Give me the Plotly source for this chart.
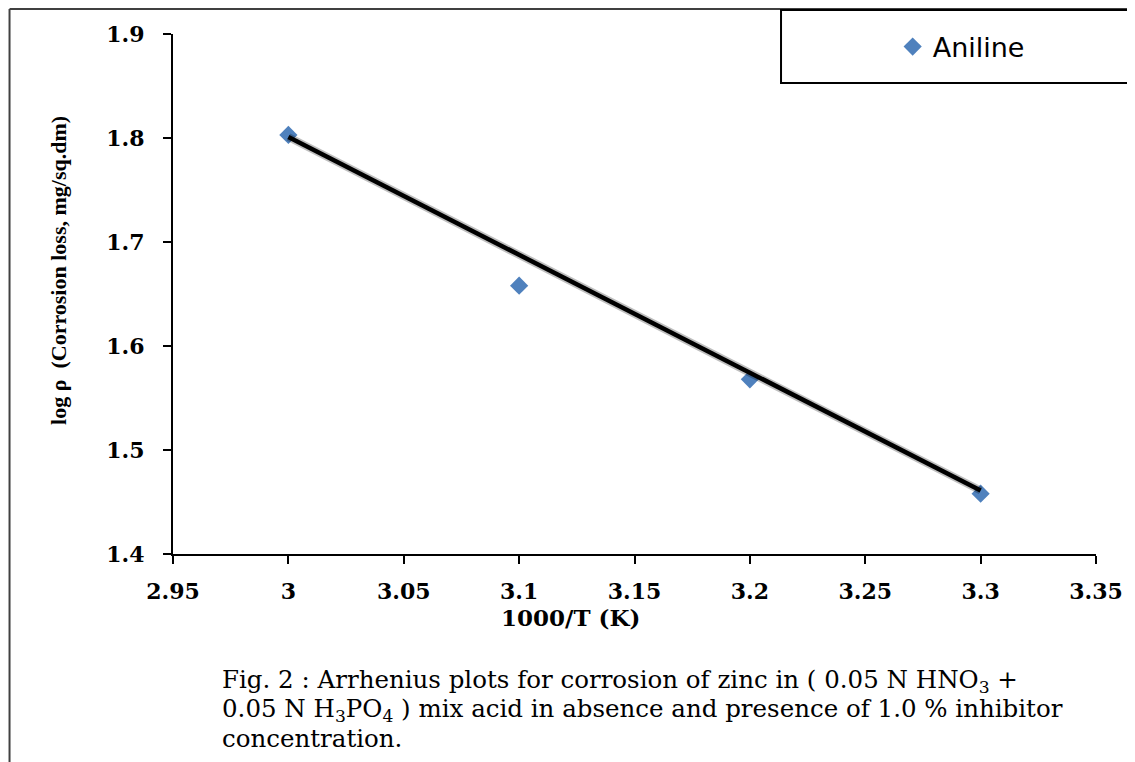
import plotly.graph_objects as go

# Data
temp_inv = [3.0, 3.1, 3.2, 3.3]
log_rho = [1.803, 1.658, 1.568, 1.458]
fit_x = [3.0, 3.3]
fit_y = [1.801, 1.461]
x_ticks = [2.95, 3.0, 3.05, 3.1, 3.15, 3.2, 3.25, 3.3, 3.35]
x_tick_labels = ["2.95", "3", "3.05", "3.1", "3.15", "3.2", "3.25", "3.3", "3.35"]
y_ticks = [1.4, 1.5, 1.6, 1.7, 1.8, 1.9]
y_tick_labels = ["1.4", "1.5", "1.6", "1.7", "1.8", "1.9"]
series_name = "Aniline"
caption_lines = [
    "Fig. 2 : Arrhenius plots for corrosion of zinc in ( 0.05 N HNO<sub>3</sub> +",
    "0.05 N H<sub>3</sub>PO<sub>4</sub> ) mix acid in absence and presence of 1.0 % inhibitor",
    "concentration.",
]

OFF = 8  # page body margin
W, H = 1135 - OFF, 762 - OFF
L, R, T, B = 173 - OFF, 1099 - OFF, 34 - OFF, 554 - OFF
pw, ph = R - L, B - T

def px(page_x):
    return (page_x - OFF - L) / pw

def py(page_y):
    return 1 - (page_y - OFF - T) / ph

fig = go.Figure()
fig.add_trace(go.Scatter(x=temp_inv, y=log_rho, mode="markers", name=series_name,
                         marker=dict(symbol="diamond", size=14, color="#4F81BD"),
                         showlegend=True))
fig.add_trace(go.Scatter(x=fit_x, y=fit_y, mode="lines", line=dict(color="rgba(0,0,0,0.25)", width=8),
                         showlegend=False, hoverinfo="skip"))
fig.add_trace(go.Scatter(x=fit_x, y=fit_y, mode="lines", line=dict(color="black", width=4.5),
                         showlegend=False))

tickfont = dict(family="DejaVu Serif", size=22, color="black")
fig.update_layout(
    width=W, height=H,
    margin=dict(l=L, r=W - R, t=T, b=H - B),
    paper_bgcolor="white", plot_bgcolor="white",
    xaxis=dict(range=[2.95, 3.35], tickvals=x_ticks, ticktext=["<b>%s</b>" % t for t in x_tick_labels],
               showgrid=False, zeroline=False, showline=True, linecolor="black", linewidth=2,
               ticks="outside", ticklen=8, tickwidth=2, tickcolor="black", tickfont=tickfont,
               ticklabelstandoff=9),
    yaxis=dict(range=[1.4, 1.9], tickvals=y_ticks, ticktext=["<b>%s</b>" % t for t in y_tick_labels],
               showgrid=False, zeroline=False, showline=True, linecolor="black", linewidth=2,
               ticks="outside", ticklen=8, tickwidth=2, tickcolor="black", tickfont=tickfont,
               ticklabelstandoff=14),
    legend=dict(x=px(895), y=py(47), xanchor="left", yanchor="middle",
                bgcolor="rgba(0,0,0,0)", borderwidth=0,
                font=dict(family="DejaVu Sans", size=27, color="black")),
    showlegend=True,
)

# outer frame (left and top edges)
fig.add_shape(type="line", xref="paper", yref="paper", x0=px(9), x1=px(9), y0=py(9), y1=py(780),
              line=dict(color="#404040", width=2))
fig.add_shape(type="line", xref="paper", yref="paper", x0=px(9), x1=px(1150), y0=py(9), y1=py(9),
              line=dict(color="#404040", width=2))
# legend box
fig.add_shape(type="rect", xref="paper", yref="paper", x0=px(783), x1=px(1150), y0=py(10), y1=py(83),
              line=dict(color="black", width=2), fillcolor="rgba(0,0,0,0)")

fig.add_annotation(xref="paper", yref="paper", x=px(43), y=py(270), textangle=-90,
                   text="<b>log \u03c1  (Corrosion loss, mg/sq.dm)</b>", showarrow=False,
                   font=dict(family="Liberation Serif", size=22, color="black"))
fig.add_annotation(xref="paper", yref="paper", x=px(572), y=py(633),
                   text="<b>1000/T (K)</b>", showarrow=False,
                   font=dict(family="DejaVu Serif", size=23, color="black"))
for i, (line, yc) in enumerate(zip(caption_lines, [681, 710, 738])):
    fig.add_annotation(xref="paper", yref="paper", x=px(220), y=py(yc), xanchor="left", yanchor="middle",
                       align="left", showarrow=False, text=line,
                       font=dict(family="DejaVu Serif", size=24.5, color="black"))

fig.write_html("out.html")
